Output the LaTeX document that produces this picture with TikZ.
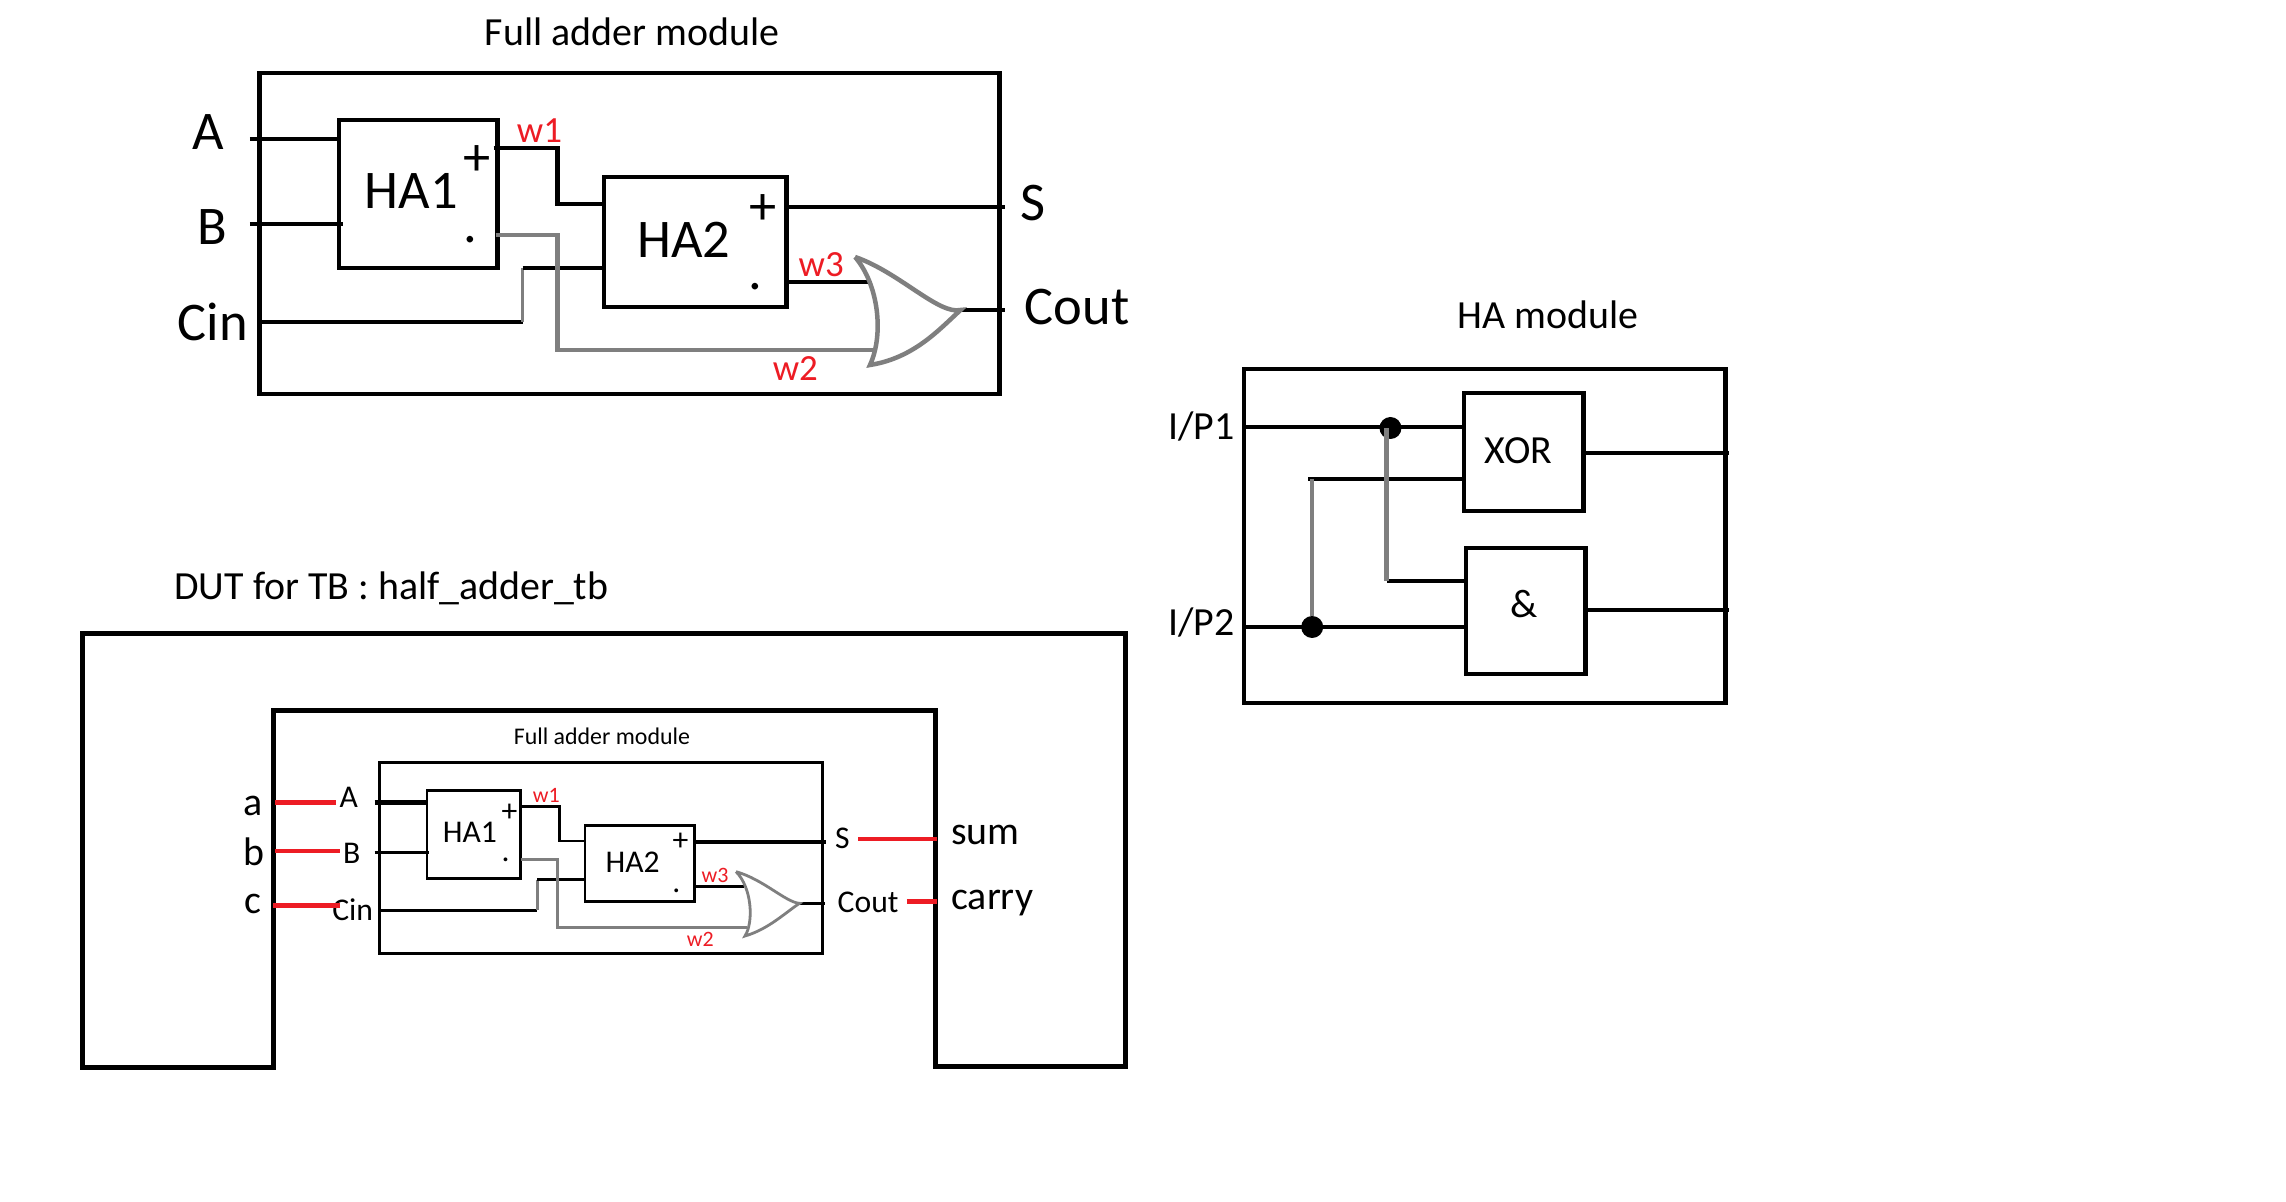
\documentclass[tikz,border=0pt]{standalone}
\usepackage{fontspec}
\setmainfont{Carlito}
\usetikzlibrary{positioning}
\definecolor{wirered}{HTML}{ED1C24}
\definecolor{wiregray}{HTML}{7F7F7F}

\begin{document}
\begin{tikzpicture}
	[
		x=0.02cm, y=-0.02cm,
		framebox/.style={rectangle, draw=black, line width=0.09cm, inner sep=0, outer sep=0},
		smallbox/.style={rectangle, draw=black, line width=0.056cm, inner sep=0, outer sep=0},
		wire/.style={draw=black, line width=0.09cm},
		thinwire/.style={draw=black, line width=0.056cm},
		graywire/.style={draw=wiregray, line width=0.09cm},
		thingray/.style={draw=wiregray, line width=0.056cm},
		redwire/.style={draw=wirered, line width=0.09cm},
		junction/.style={circle, fill=black, inner sep=0, outer sep=0, minimum size=0.44cm},
		txt/.style={inner sep=0, outer sep=0},
		bigtxt/.style={txt, font=\fontsize{31}{36}\selectfont},
		midtxt/.style={txt, font=\fontsize{22.7}{27}\selectfont},
		smalltxt/.style={txt, font=\fontsize{18}{22}\selectfont},
		redbig/.style={txt, text=wirered, font=\fontsize{21}{25}\selectfont},
		redsmall/.style={txt, text=wirered, font=\fontsize{12.5}{15}\selectfont},
	]
	\useasboundingbox (0,0) rectangle (2286,1202);
	\fill[white] (0,0) rectangle (2286,1202);

	% full adder, top left
	\begin{scope}[xshift=-0.04cm, x=0.01992cm]
	\node[midtxt] (fatitle) at (637,32) {Full adder module};
	\node[framebox, minimum width=14.8cm, minimum height=6.42cm] (faframe) at (634.5,233.5) {};
	\node[framebox, minimum width=3.17cm, minimum height=2.96cm] (ha1) at (422,194) {};
	\node[framebox, minimum width=3.65cm, minimum height=2.6cm] (ha2) at (700.5,242) {};

	\node[bigtxt] (ha1text) at (415,191) {HA1};
	\node[bigtxt] (ha2text) at (689,240) {HA2};
	\node[bigtxt] (ha1plus) at (481,161) {+};
	\node[bigtxt] (ha1dot) at (475,240) {.};
	\node[bigtxt] (ha2plus) at (769,210) {+};
	\node[bigtxt] (ha2dot) at (761,287) {.};

	\node[bigtxt] (atext) at (211,132) {A};
	\node[bigtxt] (btext) at (215,227) {B};
	\node[bigtxt] (cintext) at (216,322) {Cin};
	\node[bigtxt] (stext) at (1040,203) {S};
	\node[bigtxt] (couttext) at (1084,307) {Cout};
	\node[redbig] (w1text) at (544,131) {w1};
	\node[redbig] (w2text) at (801,369) {w2};
	\node[redbig] (w3text) at (827,265) {w3};

	\coordinate (ain) at (253,139);
	\coordinate (bin) at (253,224);
	\coordinate (bend) at (347,224);
	\coordinate (cin) at (261,322);
	\coordinate (cbend) at (527,322);
	\coordinate (cup) at (527,268);
	\coordinate (w1a) at (498,148);
	\coordinate (w1b) at (562,148);
	\coordinate (w1c) at (562,204);
	\coordinate (w2a) at (500,235);
	\coordinate (w2b) at (562,235);
	\coordinate (w2c) at (562,350);
	\coordinate (w2d) at (880,350);
	\coordinate (sa) at (791,207);
	\coordinate (sb) at (1012,207);
	\coordinate (w3a) at (791,282);
	\coordinate (w3b) at (877,282);
	\coordinate (orout) at (967,310);
	\coordinate (coutb) at (1012,310);
	\coordinate (ortop) at (861,257);
	\coordinate (orbot) at (876,365);

	\draw[wire] (ain) -- (ain -| ha1.west);
	\draw[wire] (bin) -- (bend);
	\draw[wire] (cin) -- (cbend);
	\draw[graywire, line width=0.06cm] (cbend) -- (cup);
	\draw[wire] (cup) -- (cup -| ha2.west);
	\draw[wire] (w1a) -- (w1b) -- (w1c) -- (w1c -| ha2.west);
	\draw[graywire] (w2a) -- (w2b) -- (w2c) -- (w2d);
	\draw[wire] (sa) -- (sb);
	\draw[wire] (w3a) -- (w3b);
	\draw[wire] (orout) -- (coutb);
	\draw[graywire, line join=miter] (ortop) .. controls (905,272) and (945,315) .. (orout)
		.. controls (945,330) and (920,358) .. (orbot)
		.. controls (890,335) and (885,285) .. (ortop);
	\end{scope}

	% half adder, right
	\begin{scope}[xshift=0.224cm, x=0.01982cm]
	\node[midtxt] (hatitle) at (1551,315) {HA module};
	\node[framebox, minimum width=9.63cm, minimum height=6.68cm] (haframe) at (1487,536) {};
	\node[framebox, minimum width=2.4cm, minimum height=2.36cm] (xorbox) at (1526.5,452) {};
	\node[framebox, minimum width=2.4cm, minimum height=2.52cm] (andbox) at (1528.5,611) {};
	\node[midtxt] (xortext) at (1521,451) {XOR};
	\node[midtxt] (andtext) at (1527,604) {\&};
	\node[midtxt] (ip1text) at (1201,427) {I/P1};
	\node[midtxt] (ip2text) at (1201,623) {I/P2};

	\coordinate (ip1) at (1246,427);
	\coordinate (ip2) at (1246,627);
	\coordinate (xorlow) at (1309,479);
	\coordinate (graylow) at (1313,479);
	\coordinate (andhigh) at (1388,581);
	\coordinate (grayhigh) at (1388,428);
	\node[junction] (dot1) at (1392,428) {};
	\node[junction] (dot2) at (1313,627) {};
	\coordinate (xorout) at (1734,453);
	\coordinate (andout) at (1734,610);

	\draw[wire] (ip1) -- (ip1 -| xorbox.west);
	\draw[wire] (ip2) -- (ip2 -| andbox.west);
	\draw[wire] (xorlow) -- (xorlow -| xorbox.west);
	\draw[wire] (andhigh) -- (andhigh -| andbox.west);
	\draw[graywire] (graylow) -- (dot2);
	\draw[graywire] (grayhigh) -- (andhigh);
	\draw[wire] (xorout -| xorbox.east) -- (xorout);
	\draw[wire] (andout -| andbox.east) -- (andout);
	\end{scope}

	% testbench, bottom left
	\begin{scope}[xshift=-0.018cm, yshift=-0.1266cm, x=0.01987cm, y=-0.0198cm]
	\node[midtxt] (tbtitle) at (395,588) {DUT for TB : half\_adder\_tb};
	\draw[black, line width=0.1cm, line join=miter] (84,633) -- (1134,633) -- (1134,1071) -- (943,1071)
		-- (943,711) -- (276,711) -- (276,1072) -- (84,1072) -- cycle;

	\node[txt, font=\fontsize{13.6}{17}\selectfont] (dutfatitle) at (607,737) {Full adder module};
	\node[smallbox] [minimum width=8.86cm, minimum height=3.82cm] (dutframe) at (606,860.5) {};
	\node[smallbox, minimum width=1.87cm, minimum height=1.76cm] (dutha1) at (478,836.5) {};
	\node[smallbox, minimum width=2.185cm, minimum height=1.525cm] (dutha2) at (645,865.5) {};

	\node[smalltxt] (dutha1text) at (474,834) {HA1};
	\node[smalltxt] (dutha2text) at (638,864) {HA2};
	\node[smalltxt] (dutha1plus) at (514,815) {+};
	\node[smalltxt] (dutha1dot) at (510,862) {.};
	\node[smalltxt] (dutha2plus) at (686,844) {+};
	\node[smalltxt] (dutha2dot) at (682,893) {.};

	\node[smalltxt] (dutatext) at (352,799) {A};
	\node[smalltxt] (dutbtext) at (355,856) {B};
	\node[smalltxt] (dutcintext) at (356,912) {Cin};
	\node[smalltxt] (dutstext) at (849,840) {S};
	\node[smalltxt] (dutcouttext) at (875,905) {Cout};
	\node[redsmall] (dutw1text) at (551,797) {w1};
	\node[redsmall] (dutw2text) at (706,942) {w2};
	\node[redsmall] (dutw3text) at (721,878) {w3};

	\node[midtxt] (atb) at (256,808) {a};
	\node[midtxt] (btb) at (257,854) {b};
	\node[midtxt] (ctb) at (256,907) {c};
	\node[midtxt, anchor=base] (sumtb) at (993,847) {sum};
	\node[midtxt, anchor=base] (carrytb) at (1000,912) {carry};

	\coordinate (dutain) at (378,804);
	\coordinate (dutbin) at (378,855);
	\coordinate (dutbend) at (433,855);
	\coordinate (dutcin) at (383,913);
	\coordinate (dutcbend) at (542,913);
	\coordinate (dutcup) at (542,882);
	\coordinate (dutw1a) at (525,808);
	\coordinate (dutw1b) at (564,808);
	\coordinate (dutw1c) at (564,843);
	\coordinate (dutw2a) at (525,862);
	\coordinate (dutw2b) at (562,862);
	\coordinate (dutw2c) at (562,930);
	\coordinate (dutw2d) at (753,930);
	\coordinate (dutsb) at (833,844);
	\coordinate (dutw3) at (750,889);
	\coordinate (dutorout) at (806,906);
	\coordinate (dutcoutb) at (832,906);
	\coordinate (dutortop) at (742,874);
	\coordinate (dutorbot) at (751,939);

	\draw[wire] (dutain) -- (dutain -| dutha1.west);
	\draw[thinwire] (dutbin) -- (dutbend);
	\draw[thinwire] (dutcin) -- (dutcbend);
	\draw[thingray] (dutcbend) -- (dutcup);
	\draw[thinwire] (dutcup) -- (dutcup -| dutha2.west);
	\draw[thinwire] (dutw1a) -- (dutw1b) -- (dutw1c) -- (dutw1c -| dutha2.west);
	\draw[thingray] (dutw2a) -- (dutw2b) -- (dutw2c) -- (dutw2d);
	\draw[wire] (dutsb -| dutha2.east) -- (dutsb);
	\draw[thinwire] (dutw3 -| dutha2.east) -- (dutw3);
	\draw[thinwire] (dutorout) -- (dutcoutb);
	\draw[thingray, line join=miter] (dutortop) .. controls (770,882) and (792,905) .. (dutorout)
		.. controls (792,915) and (775,932) .. (dutorbot)
		.. controls (760,925) and (758,890) .. (dutortop);

	% red links to the testbench
	\coordinate (reda) at (278,804);
	\coordinate (redaend) at (339,804);
	\coordinate (redb) at (278,853);
	\coordinate (redbend) at (343,853);
	\coordinate (redc) at (276,908);
	\coordinate (redcend) at (343,908);
	\coordinate (reds) at (865,841);
	\coordinate (redsend) at (944,841);
	\coordinate (redcout) at (914,904);
	\coordinate (redcoutend) at (944,904);
	\draw[redwire] (reda) -- (redaend);
	\draw[redwire] (redb) -- (redbend);
	\draw[redwire] (redc) -- (redcend);
	\draw[redwire] (reds) -- (redsend);
	\draw[redwire] (redcout) -- (redcoutend);
	\end{scope}
\end{tikzpicture}
\end{document}
